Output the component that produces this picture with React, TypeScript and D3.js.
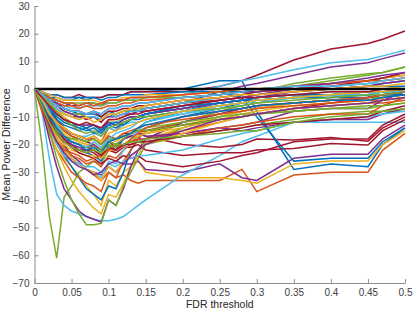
import * as d3 from "d3";
import React, { useRef, useEffect } from "react";

const width = 415;
const height = 312;

const margin = { top: 6, right: 10, bottom: 29, left: 34.5 };

// FDR threshold grid shared by all series
const fdr = [
  0, 0.01, 0.02, 0.03, 0.04, 0.05, 0.06, 0.07, 0.08, 0.09, 0.1, 0.11, 0.12,
  0.13, 0.14, 0.15, 0.2, 0.25, 0.28, 0.3, 0.35, 0.4, 0.45, 0.47, 0.5,
];

const xTicks = [0, 0.05, 0.1, 0.15, 0.2, 0.25, 0.3, 0.35, 0.4, 0.45, 0.5];
const yTicks = [-70, -60, -50, -40, -30, -20, -10, 0, 10, 20, 30];

// matlab default color order
const colors = ["#0072BD", "#D95319", "#EDB120", "#7E2F8E", "#77AC30", "#4DBEEE", "#A2142F"];

// mean power difference, one row per series
const series = [
  [0, -2, -3, -3, -4, -4, -3, -4, -3, -3, -2, -2, -2, -1, -1, -1, 0, 3, 3, -8, -29, -27, -28, -20, -14],
  [0, -5, -12, -18, -22, -25, -27, -29, -31, -33, -30, -32, -31, -33, -34, -33, -33, -33, -29, -37, -31, -30, -30, -22, -16],
  [0, -6, -14, -20, -25, -28, -31, -35, -38, -42, -33, -35, -30, -28, -26, -30, -32, -32, -33, -34, -27, -26, -26, -20, -15],
  [0, -4, -10, -16, -20, -24, -26, -29, -30, -31, -28, -30, -27, -27, -26, -29, -30, -27, -32, -33, -25, -23.5, -23.5, -18, -13],
  [0, -20, -46, -61, -39, -35, -30, -28, -26, -27, -22, -22, -20, -19, -17, -16, -12, -8, -6, -5, -3, -2, -2, -1, -1],
  [0, -8, -25, -38, -42, -44, -45, -46, -47, -47.5, -47.5, -47, -46, -44, -42, -40, -31, -24, -19, -17, -12, -12, -12, -12, -12],
  [0, -1, -2, -2, -3, -3, -2, -3, -3, -3, -2, -2, -2, -1, -1, -1, -1, 1, 3, 5, 10.5, 14.5, 16.5, 18, 21],

  [0, -6, -12, -18, -24, -28, -32, -36, -38, -40, -35, -36, -30, -22, -18, -14, -10, -7, -5, -4, -3, -2, -2, -1, -1],
  [0, -8, -16, -22, -26, -30, -32, -34, -35, -37, -30, -32, -26, -22, -18, -15, -12, -9, -7, -6, -5, -4, -4, -3, -2],
  [0, -7, -15, -22, -28, -33, -37, -40, -43, -45, -38, -39, -34, -28, -24, -18, -14, -10, -8, -7, -5, -4, -3, -3, -2],
  [0, -7, -18, -28, -36, -40, -44, -46, -47, -48, -40, -42, -36, -28, -22, -18, -12, -9, -7, -6, -5, -4, -3, -2, -2],
  [0, -5, -15, -25, -33, -40, -45, -49, -49, -48.5, -40, -42, -35, -30, -25, -20, -14, -10, -8, -7, -5, -4, -3, -3, -2],
  [0, -1, -3, -5, -6, -7, -7, -6, -6, -6, -5, -5, -4, -4, -3, -3, -2, 1, 3, 4, 7, 9.5, 10.7, 12, 14],
  [0, -3, -8, -12, -15, -17, -18, -19, -20, -22, -19, -21, -18, -17, -16, -17, -20, -21, -20, -18, -18.4, -17.5, -18.8, -14, -10],

  [0, -4, -9, -14, -18, -20, -22, -23, -24, -26, -20, -22, -18, -16, -14, -12, -8, -5, -4, -3, -2, -2, -1, -1, 0],
  [0, -3, -7, -11, -14, -16, -17, -18, -17, -19, -14, -15, -12, -11, -10, -9, -7, -5, -4, -3, -2, -2, -1, -1, 0],
  [0, -2, -5, -8, -10, -12, -13, -14, -13, -15, -11, -12, -10, -9, -8, -8, -6, -4, -3, -3, -2, -1, -1, 0, 1],
  [0, -1, -3, -4, -5, -6, -6, -5, -5, -6, -4, -4, -4, -3, -3, -3, -2, -1, 1, 2, 5, 8, 9.5, 11, 13],
  [0, -3, -7, -11, -14, -17, -19, -20, -21, -22, -20, -21, -20, -19, -19, -20, -17, -15, -14, -13, -11, -9, -8, -8, -8],
  [0, -3, -7, -10, -12, -13, -14, -13, -13, -14, -12, -12, -11, -10, -10, -9, -7, -5, -4, -3, -2, -1, -1, 0, 0],
  [0, -4, -10, -15, -18, -20, -22, -22, -23, -25, -22, -23, -21, -21, -20, -22, -24, -23, -23, -22, -21.4, -19.6, -20.2, -15, -11],

  [0, -2, -4, -6, -7, -8, -9, -9, -9, -10, -8, -9, -8, -8, -7, -7, -5, -1, -3, -10, -26, -25, -25, -19, -14],
  [0, -6, -13, -18, -21, -24, -25, -27, -26, -28, -24, -25, -22, -20, -19, -18, -15, -12, -10, -9, -7, -6, -5, -5, -4],
  [0, -4, -9, -13, -16, -18, -19, -20, -20, -22, -18, -19, -17, -16, -15, -16, -14, -11, -9, -8, -6, -5, -4, -3, -2],
  [0, -5, -11, -15, -17, -19, -20, -21, -20, -22, -19, -20, -18, -17, -16, -17, -16, -14, -15, -14, -12, -11, -11, -9, -7],
  [0, -2, -4, -6, -8, -9, -9, -10, -10, -11, -9, -9, -8, -8, -7, -7, -5, -3, -2, -1, 1, 3, 5, 6, 8],
  [0, -5, -12, -18, -22, -25, -27, -29, -30, -32, -26, -27, -22, -18, -15, -12, -9, -6, -5, -4, -3, -2, -2, -1, -1],
  [0, -2, -5, -7, -9, -10, -10, -11, -10, -12, -9, -10, -9, -8, -8, -7, -5, -4, -3, -2, -1, 0, 1, 2, 3],

  [0, -3, -6, -9, -11, -13, -14, -15, -14, -16, -13, -14, -12, -11, -11, -10, -8, -6, -5, -4, -3, -3, -2, -2, -1],
  [0, -2, -4, -5, -6, -6, -7, -6, -7, -7, -6, -6, -5, -5, -4, -4, -3, -2, -1, -1, 0, 1, 2, 3, 4],
  [0, -5, -12, -17, -20, -22, -23, -24, -24, -25, -22, -22, -20, -18, -17, -16, -13, -10, -8, -7, -5, -4, -3, -2, -1],
  [0, -2, -4, -6, -8, -9, -10, -10, -10, -11, -10, -10, -9, -9, -8, -8, -6, -4, -3, -2, 0, 2, 3, 4, 5],
  [0, -1, -3, -4, -5, -5, -5, -5, -5, -6, -5, -5, -4, -4, -4, -3, -3, -2, -1, -1, 2, 4, 5.5, 6, 8],
  [0, -4, -9, -13, -15, -16, -17, -17, -16, -17, -14, -15, -13, -12, -12, -11, -9, -7, -6, -5, -3, -2, -2, -1, -1],
  [0, -3, -7, -11, -14, -16, -17, -18, -18, -20, -17, -18, -16, -16, -15, -15, -13, -11, -10, -9, -7, -5, -3, -2, -1],

  [0, -1, -2, -2, -3, -3, -3, -3, -3, -4, -3, -3, -2, -2, -2, -2, -1, -1, -1, 0, 0, 0, 1, 1, 1],
  [0, -3, -8, -12, -15, -17, -18, -19, -18, -20, -17, -18, -16, -15, -14, -13, -11, -9, -8, -7, -6, -5, -4, -4, -3],
  [0, -1, -2, -3, -4, -4, -4, -4, -4, -5, -4, -4, -3, -3, -3, -2, -2, -1, 0, 0, 1, 2, 3, 4, 5],
  [0, -4, -10, -15, -18, -20, -21, -22, -22, -24, -21, -22, -20, -19, -18, -18, -16, -14, -13, -12, -8, -7, -7, -4, -1],
  [0, -4, -9, -14, -17, -19, -20, -21, -21, -22, -19, -20, -18, -16, -15, -14, -12, -10, -9, -9, -8, -7, -7, -6, -5],
  [0, -2, -5, -7, -9, -10, -11, -10, -10, -11, -9, -10, -9, -8, -8, -7, -5, -3, -2, -1, 0, 1, 2, 2, 3],
  [0, -4, -9, -14, -18, -21, -23, -24, -25, -27, -25, -26, -24, -25, -24, -26, -28, -26, -24, -23, -19, -18, -18, -13, -9],

  [0, -3, -7, -10, -12, -13, -13, -14, -13, -15, -12, -13, -11, -10, -10, -9, -7, -5, -4, -4, -3, -3, -3, -2, -2],
  [0, -5, -10, -14, -17, -19, -20, -21, -22, -24, -21, -22, -20, -19, -18, -19, -17, -14, -13, -12, -10, -9, -9, -6, -3],
  [0, -6, -13, -18, -22, -25, -27, -29, -30, -33, -28, -30, -26, -24, -22, -20, -16, -12, -10, -9, -7, -6, -5, -4, -3],
  [0, -3, -6, -9, -11, -12, -13, -13, -13, -14, -12, -13, -11, -10, -10, -9, -7, -5, -4, -3, -1, 0, 1, 2, 3],
  [0, -5, -11, -15, -17, -18, -18, -19, -18, -20, -18, -18, -17, -16, -15, -15, -13, -11, -10, -9, -8, -7, -6, -6, -5],
  [0, -6, -14, -20, -24, -26, -27, -28, -28, -30, -27, -28, -26, -25, -24, -24, -22, -18, -16, -15, -12, -11, -10, -9, -8],
  [0, -2, -4, -6, -7, -8, -8, -9, -8, -10, -8, -8, -7, -7, -6, -6, -4, -3, -2, -1, 0, 1, 3, 4, 6],

  [0, -4, -8, -11, -13, -14, -15, -14, -16, -15, -13, -12, -13, -11, -10, -9, -6, -5, -4, -3, -2, -2, -1, -1, 0],
  [0, -7, -14, -19, -22, -23, -24, -26, -25, -24, -22, -20, -21, -18, -16, -14, -10, -8, -7, -6, -5, -4, -3, -2, -1],
  [0, -3, -6, -8, -9, -10, -11, -10, -12, -11, -9, -9, -8, -7, -7, -6, -4, -3, -2, -2, -1, 0, 1, 1, 2],
  [0, -6, -13, -19, -23, -26, -28, -29, -31, -30, -27, -26, -27, -24, -22, -20, -15, -11, -10, -9, -7, -6, -5, -4, -3],
  [0, -2, -5, -8, -11, -13, -15, -16, -15, -17, -14, -13, -12, -11, -10, -10, -8, -7, -6, -5, -4, -3, -2, -2, -1],
  [0, -3, -8, -13, -17, -19, -20, -21, -19, -21, -18, -16, -15, -14, -12, -11, -8, -6, -5, -4, -3, -2, -1, -1, 0],
  [0, -5, -11, -16, -19, -21, -22, -23, -22, -24, -21, -22, -20, -20, -19, -19, -17, -15, -14, -13, -12, -11, -10, -8, -6],

  [0, -5, -10, -14, -17, -19, -20, -22, -21, -23, -19, -18, -17, -16, -14, -13, -10, -8, -7, -6, -5, -4, -4, -3, -2],
  [0, -2, -3, -4, -5, -5, -6, -5, -6, -5, -4, -4, -4, -3, -3, -3, -2, -1, 0, 0, 1, 2, 3, 3, 4],
  [0, -4, -9, -12, -14, -16, -17, -18, -17, -19, -16, -15, -14, -13, -12, -11, -8, -6, -5, -4, -3, -2, -1, -1, 0],
  [0, -2, -4, -5, -7, -8, -8, -9, -8, -9, -7, -7, -6, -6, -5, -5, -3, -2, -1, -1, 1, 2, 4, 5, 6],
  [0, -6, -12, -16, -19, -21, -22, -23, -22, -23, -21, -20, -20, -19, -19, -18, -17, -16, -15, -15, -12, -10, -9, -8, -7],
  [0, -2, -4, -6, -7, -8, -8, -9, -8, -9, -7, -7, -6, -6, -5, -5, -3, -2, -1, 0, 1, 1, 2, 3, 4],
  [0, -3, -6, -9, -11, -12, -13, -12, -13, -14, -11, -11, -10, -9, -9, -8, -6, -4, -3, -3, -2, -1, -1, 0, 0],
];

const App = () => {
  const svgRef = useRef<SVGSVGElement>(null);

  useEffect(() => {
    const svg = d3.select(svgRef.current);
    svg.selectAll("*").remove();

    const x = d3.scaleLinear().domain([0, 0.5]).range([margin.left, width - margin.right]);
    const y = d3.scaleLinear().domain([-70, 30]).range([height - margin.bottom, margin.top]);

    const line = d3
      .line<number>()
      .x((_, i) => x(fdr[i]))
      .y((d) => y(d));

    svg
      .append("g")
      .selectAll("path")
      .data(series)
      .join("path")
      .attr("d", (d) => line(d))
      .attr("fill", "none")
      .attr("stroke", (_, i) => colors[i % colors.length])
      .attr("stroke-width", 1.5);

    // zero reference
    svg
      .append("line")
      .attr("x1", x(0))
      .attr("x2", x(0.5))
      .attr("y1", y(0))
      .attr("y2", y(0))
      .attr("stroke", "#000")
      .attr("stroke-width", 2.5);

    const font = "'Liberation Sans', Arial, Helvetica, sans-serif";

    // x-axis, ticks point inward
    const xAxis = svg
      .append("g")
      .attr("transform", `translate(0, ${height - margin.bottom})`)
      .call(d3.axisBottom(x).tickValues(xTicks).tickSizeInner(-4).tickSizeOuter(0).tickPadding(6).tickFormat((d) => String(d)));

    // y-axis
    const yAxis = svg
      .append("g")
      .attr("transform", `translate(${margin.left}, 0)`)
      .call(d3.axisLeft(y).tickValues(yTicks).tickSizeInner(-4).tickSizeOuter(0).tickPadding(5));

    [xAxis, yAxis].forEach((a) => {
      a.select(".domain").attr("stroke", "#8c8c8c");
      a.selectAll(".tick line").attr("stroke", "#8c8c8c");
      a.selectAll("text").attr("fill", "#404040").attr("font-size", 10).attr("font-family", font);
    });

    svg
      .append("text")
      .attr("x", (x(0) + x(0.5)) / 2)
      .attr("y", 308)
      .attr("text-anchor", "middle")
      .attr("fill", "#262626")
      .attr("font-size", 10.5)
      .attr("font-family", font)
      .text("FDR threshold");

    svg
      .append("text")
      .attr("transform", `translate(10, ${(y(30) + y(-70)) / 2}) rotate(-90)`)
      .attr("text-anchor", "middle")
      .attr("fill", "#262626")
      .attr("font-size", 10.8)
      .attr("font-family", font)
      .text("Mean Power Difference");
  }, []);

  return (
    <svg
      ref={svgRef}
      width={width}
      height={height}
      style={{ position: "absolute", left: 0, top: 0, background: "#fff" }}
    />
  );
};

export default App;
